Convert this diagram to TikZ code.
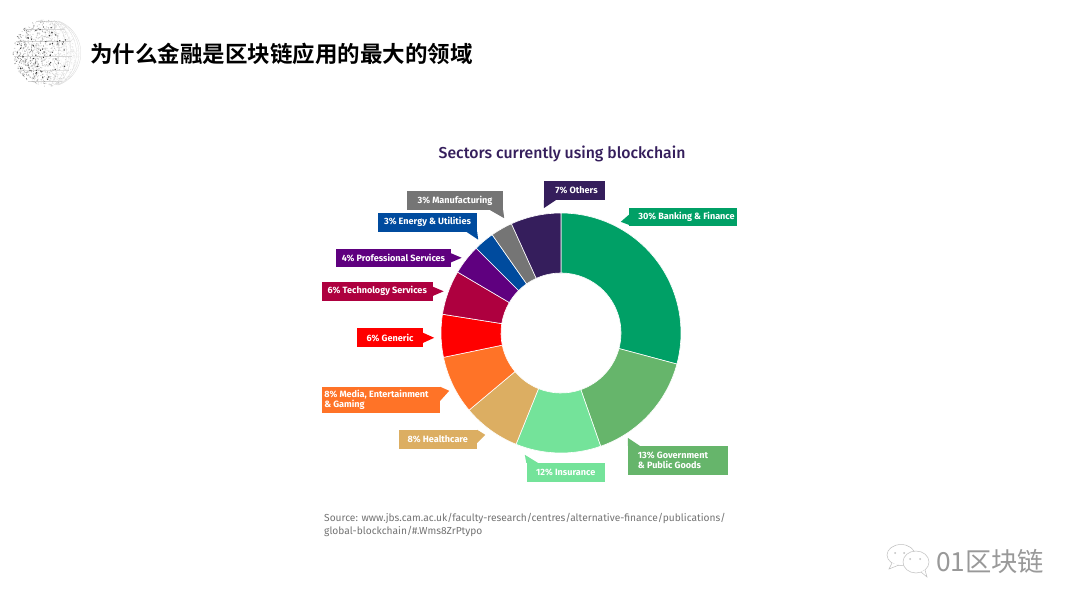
\documentclass[tikz,border=0pt]{standalone}
\usepackage{fontspec}
\setmainfont{Fira Sans}
\newfontfamily\cjk{Noto Sans CJK SC}
\newfontfamily\cjkb{Noto Sans CJK SC Bold}
\newfontfamily\firam{Fira Sans Medium}
\definecolor{cBank}{HTML}{00A066}
\definecolor{cGov}{HTML}{66B56B}
\definecolor{cIns}{HTML}{74E39A}
\definecolor{cHealth}{HTML}{DCAE62}
\definecolor{cMedia}{HTML}{FF7327}
\definecolor{cGen}{HTML}{FF0000}
\definecolor{cTech}{HTML}{AE003F}
\definecolor{cProf}{HTML}{5F007F}
\definecolor{cEn}{HTML}{004B9E}
\definecolor{cMan}{HTML}{757575}
\definecolor{cOth}{HTML}{351E5C}
\tikzset{
  callout/.style={fill=#1,text=white,inner sep=0pt,font=\bfseries\fontsize{9.1}{10}\selectfont,align=left},
  seg/.style={fill=#1,draw=white,line width=0.6pt},
}
\newcommand{\segm}[3]{\path[seg=#3] (90-#1:120pt) arc[start angle=90-#1,end angle=90-#2,radius=120pt] -- (90-#2:60pt) arc[start angle=90-#2,end angle=90-#1,radius=60pt] -- cycle;}
% name, colour, x1,y1,x2,y2, text
\newcommand{\lab}[7]{\node[callout=#2,minimum width={(#5-#3)*1pt},minimum height={(#6-#4)*1pt}] (#1) at ({(#3+#5)/2},{(#4+#6)/2}) {#7};}
\begin{document}
\begin{tikzpicture}[x=1pt,y=-1pt]
\useasboundingbox (0,0) rectangle (1080,608);
\fill[white] (0,0) rectangle (1080,608);
% globe
\begin{scope}[shift={(48,53)}]
\foreach \k in {-70,-45,...,70}{
  \draw[black!16,line width=0.25pt] plot[domain=-70:70,samples=21] ({34*cos(\x)*cos(\k)-1},{34*sin(\x)});
  \draw[black!16,line width=0.25pt] plot[domain=-90:45,samples=21] ({34*cos(\k)*sin(\x)},{34*sin(\k)});
}
\pgfmathsetseed{7}
\foreach \i in {1,...,1100}{
  \pgfmathsetmacro{\ra}{33.5*sqrt(rnd)}
  \pgfmathsetmacro{\an}{360*rnd}
  \pgfmathsetmacro{\px}{\ra*cos(\an)-1.5}
  \pgfmathsetmacro{\gr}{(15+45*rnd)*max(0.06,min(1,(1.15-(\px+34)/62)))}
  \fill[black!\gr] (\px,{\ra*sin(\an)}) circle (0.5pt);
}
\foreach \i in {1,...,55}{
  \pgfmathsetmacro{\ra}{27*sqrt(rnd)}
  \pgfmathsetmacro{\an}{360*rnd}
  \fill[black!80] ({\ra*cos(\an)-6},{\ra*sin(\an)}) circle (0.7pt);
}
\end{scope}
% heading
\node[anchor=west,inner sep=0pt,text=black] (head) at (90,54) {\cjkb\fontsize{22.5}{26}\selectfont 为什么金融是区块链应用的最大的领域};
\node[anchor=west,inner sep=0pt,text=cOth] (ctitle) at (438.5,154) {\firam\fontsize{15.8}{18}\selectfont Sectors currently using blockchain};
% donut
\begin{scope}[shift={(561,333)}]
\segm{0}{105}{cBank}
\segm{105}{160.7}{cGov}
\segm{160.7}{202}{cIns}
\segm{202}{230}{cHealth}
\segm{230}{258.3}{cMedia}
\segm{258.3}{279}{cGen}
\segm{279}{300.5}{cTech}
\segm{300.5}{315}{cProf}
\segm{315}{325}{cEn}
\segm{325}{335.6}{cMan}
\segm{335.6}{360}{cOth}
\end{scope}
% callouts
\lab{man}{cMan}{407}{191}{503}{210}{3\% Manufacturing}
\fill[cMan] (man.south east) -- ++(1,8) -- ++(-14,-8) -- cycle;
\lab{ene}{cEn}{378}{213}{477}{231.5}{3\% Energy \& Utilities}
\fill[cEn] (ene.south east) -- ++(1,8) -- ++(-12,-8) -- cycle;
\lab{pro}{cProf}{336}{248.5}{451}{267}{4\% Professional Services}
\fill[cProf] (pro.north east) ++(0,5) -- ++(10.5,4.5) -- ++(-10.5,4.5) -- cycle;
\lab{tec}{cTech}{321.5}{282}{433}{300.5}{6\% Technology Services}
\fill[cTech] (tec.north east) ++(0,5) -- ++(10.5,4.5) -- ++(-10.5,4.5) -- cycle;
\lab{gen}{cGen}{357}{328}{423}{347}{6\% Generic}
\fill[cGen] (gen.north east) ++(0,5) -- ++(11,5) -- ++(-11,5) -- cycle;
\lab{med}{cMedia}{322}{387}{440}{413}{8\% Media, Entertainment\hspace{9pt}\mbox{}\\[0pt]\& Gaming}
\fill[cMedia] (med.north east) -- ++(9,4) -- ++(-9,10) -- cycle;
\lab{hea}{cHealth}{398.5}{430}{477}{449}{8\% Healthcare}
\fill[cHealth] (hea.north east) -- ++(8,5) -- ++(-8,8) -- cycle;
\lab{ins}{cIns}{526.5}{463}{605}{482}{12\% Insurance}
\fill[cIns] (ins.north west) -- ++(-1.5,-8) -- ++(13,8) -- cycle;
\lab{gov}{cGov}{628}{446}{728}{474.5}{13\% Government\hspace{10pt}\mbox{}\\[0pt]\& Public Goods}
\fill[cGov] (gov.north west) -- ++(0,-8) -- ++(12,8) -- cycle;
\lab{ban}{cBank}{629}{208}{737}{226}{\hspace{7pt}30\% Banking \& Finance}
\fill[cBank] (ban.north west) ++(0,7) -- ++(-8,7) -- ++(8,3) -- cycle;
\lab{oth}{cOth}{544}{181}{605}{200}{\hspace{4pt}7\% Others}
\fill[cOth] (oth.south west) -- ++(0,8) -- ++(12,-8) -- cycle;
% source
\node[anchor=north west,inner sep=0pt,text=black!55,align=left,font=\fontsize{10.2}{13}\selectfont] (src) at (324,513) {Source: www.jbs.cam.ac.uk/faculty-research/centres/alternative-finance/publications/\\global-blockchain/\#.Wms8ZrPtypo};
% watermark
\begin{scope}[black!25,line width=0.5pt]
\path[draw,fill=white] (901,555) ellipse (14 and 10.5);
\path[draw,fill=white] (892,563) -- (889,569) -- (899,565);
\path[draw,fill=white] (916,562) ellipse (13 and 11);
\path[draw,fill=white] (921,572) -- (927,577) -- (925,570);
\fill (895,553) circle (1); \fill (904,553) circle (1);
\fill (910,559) circle (1); \fill (920,559) circle (1);
\end{scope}
\node[anchor=west,inner sep=0pt,text=black!40] (wm) at (936,561) {\cjk\fontsize{26.3}{28}\selectfont 01区块链};
\end{tikzpicture}
\end{document}
